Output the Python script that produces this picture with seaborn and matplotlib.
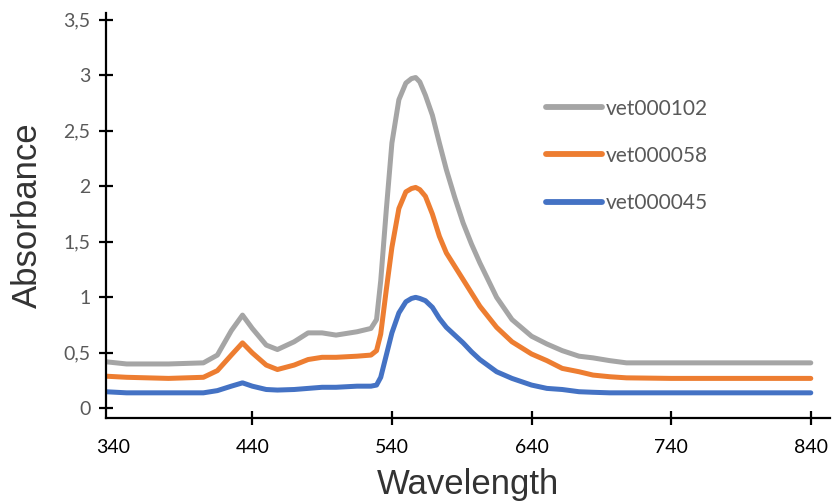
import pandas as pd
import numpy as np
import matplotlib
matplotlib.use("Agg")
import matplotlib.pyplot as plt
import seaborn as sns

# wavelength (nm) and absorbance
wavelength = [335, 350, 380, 405, 415, 425, 433, 440, 450, 458, 470, 480, 490, 500,
              515, 525, 529, 532, 536, 540, 545, 550, 554, 557, 560, 564, 569, 574, 579, 585,
              591, 597, 603, 615, 626, 640, 651, 662, 674, 684, 696, 708, 740, 780, 840]
vet000102 = [0.42, 0.40, 0.40, 0.41, 0.48, 0.70, 0.84, 0.72, 0.57, 0.53, 0.60, 0.68, 0.68, 0.66,
             0.69, 0.72, 0.80, 1.15, 1.79, 2.39, 2.78, 2.93, 2.97, 2.98, 2.94, 2.82, 2.64, 2.39, 2.15, 1.90,
             1.67, 1.48, 1.31, 1.00, 0.80, 0.65, 0.58, 0.52, 0.47, 0.455, 0.43, 0.41, 0.41, 0.41, 0.41]
vet000058 = [0.29, 0.28, 0.27, 0.28, 0.34, 0.48, 0.59, 0.50, 0.39, 0.35, 0.39, 0.44, 0.46, 0.46,
             0.47, 0.48, 0.52, 0.67, 1.07, 1.45, 1.80, 1.95, 1.98, 1.99, 1.97, 1.91, 1.75, 1.55, 1.40, 1.28,
             1.16, 1.04, 0.92, 0.73, 0.60, 0.49, 0.43, 0.36, 0.33, 0.30, 0.285, 0.275, 0.27, 0.27, 0.27]
vet000045 = [0.15, 0.14, 0.14, 0.14, 0.16, 0.20, 0.23, 0.20, 0.17, 0.165, 0.17, 0.18, 0.19, 0.19,
             0.20, 0.20, 0.21, 0.28, 0.48, 0.68, 0.86, 0.96, 0.99, 1.00, 0.99, 0.97, 0.91, 0.81, 0.73, 0.66,
             0.59, 0.51, 0.44, 0.33, 0.27, 0.21, 0.18, 0.17, 0.15, 0.145, 0.14, 0.14, 0.14, 0.14, 0.14]

series_names = ["vet000102", "vet000058", "vet000045"]
colors = ["#A5A5A5", "#ED7D31", "#4472C4"]
xticks = [340, 440, 540, 640, 740, 840]
yticks = [0, 0.5, 1, 1.5, 2, 2.5, 3, 3.5]
ytick_labels = ["0", "0,5", "1", "1,5", "2", "2,5", "3", "3,5"]

df = pd.DataFrame({
    "Wavelength": wavelength * 3,
    "Absorbance": vet000102 + vet000058 + vet000045,
    "sample": np.repeat(series_names, len(wavelength)),
})

sns.set_style("ticks")
plt.rcParams["font.family"] = ["Lato", "DejaVu Sans"]

fig = plt.figure(figsize=(8.32, 5.04), dpi=100)
ax = fig.add_axes([0.127, 0.171, 0.871, 0.803])

sns.lineplot(data=df, x="Wavelength", y="Absorbance", hue="sample",
             hue_order=series_names, palette=colors, linewidth=3.6,
             sort=False, ax=ax)
for line in ax.lines:
    line.set_solid_capstyle("round")
    line.set_solid_joinstyle("round")

ax.set_xlim(335, 854)
ax.set_ylim(-0.085, 3.56)
ax.set_xticks(xticks)
ax.set_yticks(yticks)
ax.set_yticklabels(ytick_labels)
sns.despine(ax=ax)
for s in ["left", "bottom"]:
    ax.spines[s].set_linewidth(1.6)
    ax.spines[s].set_color("black")
ax.tick_params(axis="both", direction="inout", length=10, width=1.6, color="black",
               bottom=True, left=True)
ax.tick_params(axis="y", labelsize=14, labelcolor="#595959", pad=6)
ax.tick_params(axis="x", labelsize=14, labelcolor="black", pad=10)
ax.xaxis.get_major_ticks()[0].tick1line.set_visible(False)

ax.set_xlabel("Wavelength", fontsize=25, color="#333333", family=["Liberation Sans"], labelpad=9)
ax.set_ylabel("Absorbance", fontsize=25, color="#333333", family=["Liberation Sans"], labelpad=14)

leg = ax.legend(loc="upper left", bbox_to_anchor=(0.582, 0.835), frameon=False,
                fontsize=15, handlelength=2.7, handletextpad=0.15, labelspacing=1.3)
for t in leg.get_texts():
    t.set_color("#595959")
for h in leg.get_lines():
    h.set_linewidth(4.2)
    h.set_solid_capstyle("round")

fig.savefig("out.png", dpi=100)
